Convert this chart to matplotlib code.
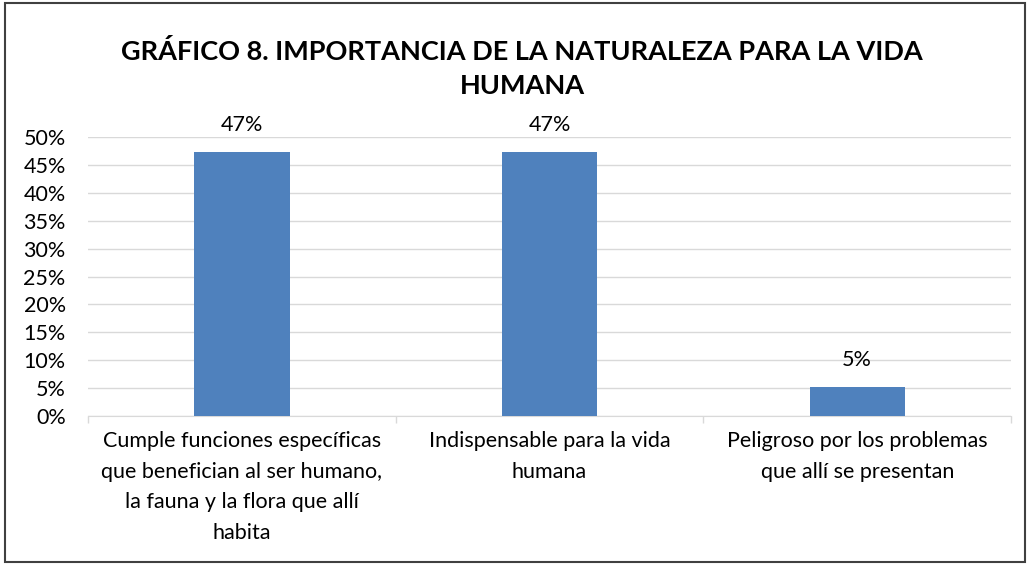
import matplotlib
matplotlib.use("Agg")
import matplotlib.pyplot as plt
from matplotlib.patches import Rectangle

plt.rcParams['font.family'] = ['Lato', 'DejaVu Sans']

categories = [
    "Cumple funciones específicas\nque benefician al ser humano,\nla fauna y la flora que allí\nhabita",
    "Indispensable para la vida\nhumana",
    "Peligroso por los problemas\nque allí se presentan",
]
values = [47.37, 47.37, 5.26]
value_labels = ["47%", "47%", "5%"]
yticks = list(range(0, 51, 5))
title = "GRÁFICO 8. IMPORTANCIA DE LA NATURALEZA PARA LA VIDA\nHUMANA"

fig = plt.figure(figsize=(10.3, 5.65), dpi=100)
ax = fig.add_axes([0.0854, 0.2637, 0.8962, 0.4938])

x = list(range(len(categories)))
ax.bar(x, values, width=0.31, color="#4F81BD", zorder=3)
ax.set_xlim(-0.5, len(categories) - 0.5)
ax.set_ylim(0, 50)
ax.set_yticks(yticks)
ax.set_yticklabels([f"{t}%" for t in yticks], fontsize=15.5)
ax.tick_params(axis='y', length=0, pad=16)
ax.grid(axis='y', color="#D9D9D9", linewidth=1, zorder=0)

# category labels
ax.set_xticks(x)
ax.set_xticklabels(categories, fontsize=15.5, linespacing=1.66, va='top')
ax.tick_params(axis='x', which='major', length=0, pad=11)
ax.set_xticks([i - 0.5 for i in range(len(categories) + 1)], minor=True)
ax.tick_params(axis='x', which='minor', length=5, color="#D9D9D9", width=1)

for s in ['top', 'right', 'left']:
    ax.spines[s].set_visible(False)
ax.spines['bottom'].set_color("#D9D9D9")

for xi, v, lab in zip(x, values, value_labels):
    ax.annotate(lab, (xi, v), xytext=(0, 12), textcoords='offset points',
                ha='center', va='bottom', fontsize=15.5)

fig.text(0.507, 0.879, title, ha='center', va='center', fontsize=19.5,
         fontweight='bold', linespacing=1.52)

fig.patches.append(Rectangle((0.005, 0.005), 0.99, 0.99, transform=fig.transFigure,
                             fill=False, edgecolor="#404040", linewidth=1.5))

fig.savefig("out.png", dpi=100)
